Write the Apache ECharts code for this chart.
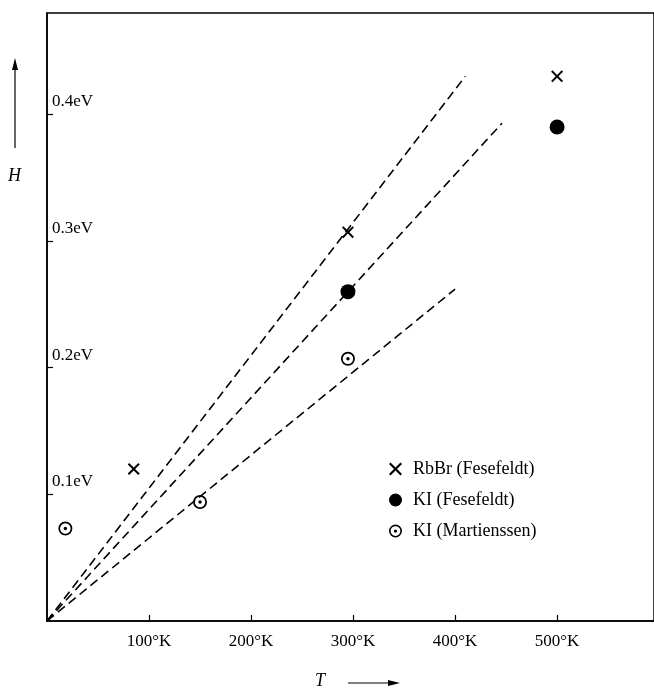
<!DOCTYPE html>
<html>
<head>
<meta charset="utf-8">
<script src="https://cdn.jsdelivr.net/npm/echarts@6/dist/echarts.min.js"></script>
<style>
  html, body { margin: 0; padding: 0; background: #fff; }
  #chart { width: 654px; height: 698px; }
</style>
</head>
<body>
<div id="chart"></div>
<script>
// measured values (T in K, H in eV)
var rbbrT = [85, 295, 500];
var rbbrH = [0.12, 0.307, 0.43];
var kiFesT = [295, 500];
var kiFesH = [0.26, 0.39];
var kiMarT = [18, 150, 295];
var kiMarH = [0.073, 0.094, 0.207];

// dashed straight lines through origin: [T end, H end]
var fitRbBr = [410, 0.43];
var fitKiFes = [446, 0.393];
var fitKiMar = [400, 0.262];

var xTicks = [100, 200, 300, 400, 500];
var yTicks = [0.1, 0.2, 0.3, 0.4];

var seriesNames = ['RbBr (Fesefeldt)', 'KI (Fesefeldt)', 'KI (Martienssen)'];

var crossPath = 'path://M0,1.4L1.4,0L6,4.6L10.6,0L12,1.4L7.4,6L12,10.6L10.6,12L6,7.4L1.4,12L0,10.6L4.6,6Z';
var ringDotPath = 'path://M0,6A6,6 0 1 1 12,6A6,6 0 1 1 0,6ZM1.5,6A4.5,4.5 0 1 0 10.5,6A4.5,4.5 0 1 0 1.5,6ZM4.5,6A1.5,1.5 0 1 1 7.5,6A1.5,1.5 0 1 1 4.5,6Z';

function pairs(xs, ys) {
  var out = [];
  for (var i = 0; i < xs.length; i++) out.push([xs[i], ys[i]]);
  return out;
}

function fitLine(end) {
  return {
    type: 'line',
    data: [[0, 0], end],
    symbol: 'none',
    silent: true,
    lineStyle: { color: '#000', width: 1.6, type: [9, 5] },
    z: 1
  };
}

var font = 'Liberation Serif';

var myChart = echarts.init(document.getElementById('chart'));
myChart.setOption({
  animation: false,
  backgroundColor: '#fff',
  grid: {
    left: 47, right: -2, top: 13, bottom: 77,
    show: true, borderColor: '#000', borderWidth: 1.5
  },
  legend: {
    orient: 'vertical',
    left: 384, top: 455,
    itemWidth: 13, itemHeight: 13, itemGap: 13,
    textStyle: { fontFamily: font, fontSize: 18, color: '#000', padding: [0, 0, 0, 6] },
    data: [
      { name: seriesNames[0], icon: crossPath },
      { name: seriesNames[1], icon: 'circle' },
      { name: seriesNames[2], icon: ringDotPath }
    ]
  },
  xAxis: {
    type: 'value', min: 0, max: 595,
    splitLine: { show: false },
    axisLine: { lineStyle: { color: '#000', width: 1.5 } },
    axisTick: { inside: true, length: 6, customValues: xTicks, lineStyle: { color: '#000', width: 1.2 } },
    axisLabel: {
      customValues: xTicks, margin: 12,
      fontFamily: font, fontSize: 17, color: '#000',
      formatter: function (v) { return v + '°K'; }
    }
  },
  yAxis: {
    type: 'value', min: 0, max: 0.48,
    splitLine: { show: false },
    axisLine: { lineStyle: { color: '#000', width: 1.5 } },
    axisTick: { inside: true, length: 6, customValues: yTicks, lineStyle: { color: '#000', width: 1.2 } },
    axisLabel: {
      customValues: yTicks, inside: true, margin: 5,
      verticalAlign: 'bottom', padding: [0, 0, 4, 0],
      fontFamily: font, fontSize: 17, color: '#000',
      formatter: function (v) { return v.toFixed(1) + 'eV'; }
    }
  },
  graphic: [
    { type: 'text', left: 8, top: 167, style: { text: 'H', font: 'italic 18px ' + font, fill: '#000' } },
    { type: 'line', shape: { x1: 15, y1: 148, x2: 15, y2: 66 }, style: { stroke: '#000', lineWidth: 1.2 } },
    { type: 'polygon', shape: { points: [[15, 58], [12, 70], [18, 70]] }, style: { fill: '#000' } },
    { type: 'text', left: 315, top: 672, style: { text: 'T', font: 'italic 18px ' + font, fill: '#000' } },
    { type: 'line', shape: { x1: 348, y1: 683, x2: 392, y2: 683 }, style: { stroke: '#000', lineWidth: 1.2 } },
    { type: 'polygon', shape: { points: [[400, 683], [388, 680], [388, 686]] }, style: { fill: '#000' } }
  ],
  series: [
    fitLine([fitRbBr[0], fitRbBr[1]]),
    fitLine([fitKiFes[0], fitKiFes[1]]),
    fitLine([fitKiMar[0], fitKiMar[1]]),
    {
      name: seriesNames[0], type: 'scatter', symbol: crossPath, symbolSize: 12,
      itemStyle: { color: '#000', opacity: 1 }, data: pairs(rbbrT, rbbrH), z: 3
    },
    {
      name: seriesNames[1], type: 'scatter', symbol: 'circle', symbolSize: 15,
      itemStyle: { color: '#000', opacity: 1 }, data: pairs(kiFesT, kiFesH), z: 3
    },
    {
      name: seriesNames[2], type: 'scatter', symbol: ringDotPath, symbolSize: 14,
      itemStyle: { color: '#000', opacity: 1 }, data: pairs(kiMarT, kiMarH), z: 3
    }
  ]
});
</script>
</body>
</html>
